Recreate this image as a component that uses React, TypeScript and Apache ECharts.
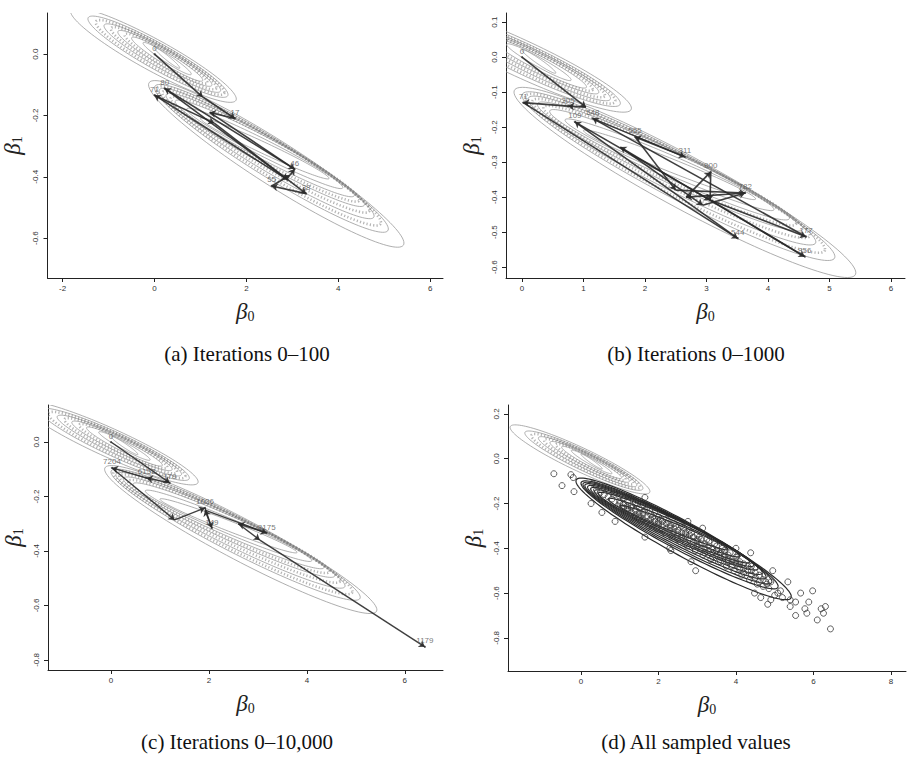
import React, { useEffect, useRef } from "react";
import * as echarts from "echarts";

// ---- contour families: left tip, right tip, vertical half-width ----
const upperLeft = [[-1.83, 0.14], [-1.45, 0.115], [-1.1, 0.092], [-0.8, 0.072], [-0.5, 0.052], [-0.25, 0.036], [0.0, 0.02]];
const upperRight = [[1.78, -0.146], [1.6, -0.132], [1.44, -0.118], [1.25, -0.1], [1.05, -0.085], [0.8, -0.065], [0.55, -0.045]];
const upperHalf = [0.058, 0.048, 0.038, 0.03, 0.022, 0.015, 0.009];

const lowerLeft = [[-0.13, -0.1], [0.0, -0.11], [0.1, -0.12], [0.25, -0.135], [0.45, -0.155], [0.7, -0.18], [1.0, -0.21]];
const lowerRight = [[5.43, -0.616], [5.09, -0.57], [4.78, -0.528], [4.57, -0.49], [4.35, -0.46], [4.1, -0.435], [3.8, -0.405]];
const lowerHalf = [0.085, 0.072, 0.06, 0.05, 0.04, 0.03, 0.02];

// contour-label bands (dense small labels drawn along the contours)
const upperBandLeft = [[-1.28, 0.103], [-0.95, 0.082], [-0.65, 0.062]];
const upperBandRight = [[1.52, -0.125], [1.35, -0.109], [1.15, -0.092]];
const upperBandHalf = [0.043, 0.034, 0.026];
const lowerBandLeft = [[0.05, -0.115], [0.17, -0.127], [0.35, -0.145]];
const lowerBandRight = [[4.93, -0.549], [4.68, -0.509], [4.46, -0.475]];
const lowerBandHalf = [0.066, 0.055, 0.045];

// ---- sampler paths ----
const pathA = [
  [0.0, 0.0], [1.05, -0.14], [1.75, -0.21], [1.2, -0.19], [3.05, -0.375], [0.22, -0.112],
  [2.9, -0.41], [0.0, -0.134], [1.3, -0.225], [3.3, -0.455], [2.55, -0.43], [2.95, -0.395], [3.05, -0.375],
];
const labelsA = [
  [0.0, 0.0, "0"], [0.22, -0.112, "80"], [0.0, -0.134, "71"], [1.75, -0.21, "17"],
  [3.05, -0.375, "46"], [3.3, -0.455, "38"], [2.55, -0.43, "55"],
];

const pathB = [
  [0.0, 0.0], [1.04, -0.143], [0.75, -0.14], [0.02, -0.13], [3.51, -0.518], [0.86, -0.185],
  [3.06, -0.408], [4.62, -0.513], [1.15, -0.175], [2.65, -0.285], [1.84, -0.228], [2.5, -0.38],
  [3.63, -0.388], [2.67, -0.4], [3.07, -0.328], [3.06, -0.408], [4.6, -0.57], [1.6, -0.257],
  [2.94, -0.423], [3.63, -0.388],
];
const labelsB = [
  [0.0, 0.0, "0"], [0.02, -0.13, "71"], [0.75, -0.14, "305"], [0.86, -0.185, "109"],
  [1.15, -0.175, "548"], [1.84, -0.228, "565"], [2.65, -0.285, "311"], [3.07, -0.328, "900"],
  [3.63, -0.388, "782"], [4.62, -0.513, "177"], [4.6, -0.57, "856"], [3.51, -0.518, "544"],
];

const pathC = [
  [0.0, 0.0], [1.2, -0.15], [0.73, -0.132], [0.02, -0.095], [1.3, -0.286], [1.92, -0.242],
  [2.06, -0.316], [1.92, -0.25], [3.18, -0.334], [2.6, -0.3], [3.04, -0.36], [6.41, -0.752],
];
const labelsC = [
  [0.0, 0.0, "0"], [0.02, -0.095, "7204"], [0.73, -0.132, "6152"], [1.2, -0.15, "179"],
  [1.92, -0.242, "1026"], [2.06, -0.316, "149"], [3.18, -0.334, "8175"], [6.41, -0.752, "1179"],
];

// ---- all sampled values (panel d) ----
const samplesCore = [
  [0.3, -0.11], [0.4, -0.14], [0.5, -0.12], [0.6, -0.16], [0.7, -0.14], [0.8, -0.18], [0.9, -0.15], [1.0, -0.2],
  [1.0, -0.17], [1.1, -0.22], [1.1, -0.18], [1.2, -0.19], [1.2, -0.23], [1.3, -0.21], [1.3, -0.24], [1.4, -0.2],
  [1.4, -0.25], [1.5, -0.22], [1.5, -0.26], [1.6, -0.24], [1.6, -0.27], [1.7, -0.22], [1.7, -0.28], [1.8, -0.25],
  [1.8, -0.29], [1.9, -0.27], [1.9, -0.24], [2.0, -0.3], [2.0, -0.26], [2.1, -0.28], [2.1, -0.32], [2.2, -0.27],
  [2.2, -0.31], [2.3, -0.3], [2.3, -0.34], [2.4, -0.29], [2.4, -0.33], [2.5, -0.32], [2.5, -0.36], [2.6, -0.3],
  [2.6, -0.35], [2.7, -0.33], [2.7, -0.38], [2.8, -0.36], [2.8, -0.32], [2.9, -0.35], [2.9, -0.39], [3.0, -0.37],
  [3.0, -0.34], [3.1, -0.4], [3.1, -0.36], [3.2, -0.38], [3.2, -0.42], [3.3, -0.37], [3.3, -0.41], [3.4, -0.4],
  [3.4, -0.44], [3.5, -0.39], [3.5, -0.43], [3.6, -0.42], [3.6, -0.46], [3.7, -0.44], [3.7, -0.41], [3.8, -0.46],
  [3.8, -0.43], [3.9, -0.45], [3.9, -0.48], [4.0, -0.47], [4.0, -0.44], [4.1, -0.49], [4.2, -0.47], [4.2, -0.51],
  [4.3, -0.5], [4.4, -0.52], [4.4, -0.48], [4.5, -0.53], [4.6, -0.52], [4.6, -0.55], [4.7, -0.54], [4.8, -0.56],
  [0.6, -0.13], [1.5, -0.24], [2.5, -0.34], [3.5, -0.41], [2.0, -0.28], [3.0, -0.39], [1.2, -0.21], [4.1, -0.46],
  [2.3, -0.32], [2.7, -0.35],
];
const samplesCore2 = [
  [1.0, -0.19], [1.1, -0.2], [1.2, -0.22], [1.3, -0.22], [1.4, -0.23], [1.5, -0.25], [1.6, -0.25], [1.7, -0.26],
  [1.8, -0.27], [1.9, -0.28], [2.0, -0.29], [2.1, -0.3], [2.2, -0.29], [2.3, -0.31], [2.4, -0.31], [2.5, -0.33],
  [2.6, -0.33], [2.7, -0.34], [2.8, -0.34], [2.9, -0.37], [3.0, -0.36], [3.1, -0.38], [3.2, -0.4], [3.3, -0.39],
  [3.4, -0.42], [3.5, -0.41], [3.6, -0.44], [3.7, -0.43], [3.8, -0.45], [3.9, -0.46], [4.0, -0.46], [4.1, -0.47],
  [4.2, -0.49], [4.3, -0.48], [4.4, -0.5], [4.5, -0.51], [1.45, -0.21], [1.65, -0.23], [1.85, -0.26], [2.05, -0.27],
  [2.25, -0.28], [2.45, -0.3], [2.65, -0.31], [2.85, -0.33], [3.05, -0.35], [3.25, -0.36], [3.45, -0.38], [3.65, -0.4],
  [3.85, -0.42], [4.05, -0.43], [1.35, -0.26], [1.55, -0.28], [1.75, -0.3], [1.95, -0.31], [2.15, -0.33], [2.35, -0.35],
  [2.55, -0.37], [2.75, -0.39], [2.95, -0.41], [3.15, -0.43], [3.35, -0.45], [3.55, -0.46], [3.75, -0.48], [3.95, -0.5],
  [4.15, -0.52], [4.35, -0.54], [4.55, -0.56], [0.7, -0.17], [0.85, -0.16], [0.95, -0.21], [1.25, -0.17], [0.5, -0.15],
  [0.4, -0.12], [4.7, -0.57], [4.75, -0.52], [4.85, -0.58], [4.9, -0.55],
];
const samplesOuter = [
  [-0.7, -0.067], [-0.49, -0.12], [-0.18, -0.147], [-0.26, -0.071], [-0.2, -0.084], [0.26, -0.2], [0.54, -0.24],
  [0.88, -0.28], [1.65, -0.35], [1.65, -0.173], [2.32, -0.41], [2.29, -0.4], [2.84, -0.46], [2.96, -0.5],
  [2.76, -0.28], [3.14, -0.31], [4.0, -0.4], [4.38, -0.42], [4.48, -0.6], [4.64, -0.62], [4.82, -0.65],
  [4.9, -0.63], [4.95, -0.5], [5.0, -0.61], [5.34, -0.55], [5.2, -0.62], [5.4, -0.63], [5.4, -0.66],
  [5.54, -0.64], [5.54, -0.7], [5.67, -0.6], [5.78, -0.67], [5.83, -0.69], [5.88, -0.64], [5.98, -0.59],
  [6.1, -0.72], [6.2, -0.67], [6.26, -0.69], [6.31, -0.66], [6.44, -0.76], [4.77, -0.55], [5.15, -0.59], [5.08, -0.6],
];

// ---- axes ----
const xTicksA = [-2, 0, 2, 4, 6];
const yTicksA = [0, -0.2, -0.4, -0.6];
const xTicksB = [0, 1, 2, 3, 4, 5, 6];
const yTicksB = [0.1, 0, -0.1, -0.2, -0.3, -0.4, -0.5, -0.6];
const xTicksC = [0, 2, 4, 6];
const yTicksC = [0, -0.2, -0.4, -0.6, -0.8];
const xTicksD = [0, 2, 4, 6, 8];
const yTicksD = [0.2, 0, -0.2, -0.4, -0.6, -0.8];

const captions = ["(a) Iterations 0\u2013100", "(b) Iterations 0\u20131000", "(c) Iterations 0\u201310,000", "(d) All sampled values"];

const panels = [
  { grid: { left: 47, top: 13, width: 396, height: 265 }, x: [-2.33, 6.28], y: [-0.73, 0.134], xt: xTicksA, yt: yTicksA, cap: [247, 354] },
  { grid: { left: 506, top: 13, width: 399, height: 265 }, x: [-0.26, 6.23], y: [-0.631, 0.126], xt: xTicksB, yt: yTicksB, cap: [696, 354] },
  { grid: { left: 48, top: 405, width: 395, height: 265 }, x: [-1.286, 6.78], y: [-0.837, 0.136], xt: xTicksC, yt: yTicksC, cap: [237, 742] },
  { grid: { left: 508, top: 405, width: 398, height: 266 }, x: [-1.884, 8.39], y: [-0.948, 0.24], xt: xTicksD, yt: yTicksD, cap: [696, 742] },
];

const nameRich = {
  b: { fontSize: 23, fontFamily: "Liberation Serif", fontStyle: "italic", color: "#222" },
  s: { fontSize: 14, fontFamily: "Liberation Serif", color: "#222", padding: [10, 0, 0, 0] },
};

function ellipseSeries(i: number, left: number[][], right: number[][], half: number[], color: string, width: number, dash?: number[]) {
  return {
    type: "custom",
    xAxisIndex: i,
    yAxisIndex: i,
    clip: true,
    silent: true,
    z: 2,
    data: left.map((l, k) => [l[0], l[1], right[k][0], right[k][1], half[k]]),
    encode: { x: [0, 2], y: [1, 3] },
    renderItem: (params: any, api: any) => {
      const lx = api.value(0), ly = api.value(1), rx = api.value(2), ry = api.value(3), b = api.value(4);
      const cx = (lx + rx) / 2, cy = (ly + ry) / 2, a = (rx - lx) / 2, h = (ry - ly) / 2;
      const pts: number[][] = [];
      for (let k = 0; k <= 120; k++) {
        const t = (2 * Math.PI * k) / 120;
        pts.push(api.coord([cx + a * Math.cos(t), cy + h * Math.cos(t) + b * Math.sin(t)]));
      }
      return {
        type: "polyline",
        shape: { points: pts },
        style: { fill: null, stroke: color, lineWidth: width, lineDash: dash || null },
      };
    },
  };
}

function pathSeries(i: number, path: number[][], width: number) {
  return {
    type: "lines",
    coordinateSystem: "cartesian2d",
    xAxisIndex: i,
    yAxisIndex: i,
    silent: true,
    z: 5,
    symbol: ["none", "arrow"],
    symbolSize: 6,
    lineStyle: { color: "#2a2a2a", width, opacity: 0.9 },
    data: path.slice(1).map((p, k) => ({ coords: [path[k], p] })),
  };
}

function labelSeries(i: number, labels: any[]) {
  return {
    type: "scatter",
    xAxisIndex: i,
    yAxisIndex: i,
    silent: true,
    z: 6,
    symbolSize: 2,
    itemStyle: { color: "#333" },
    label: { show: true, formatter: "{b}", position: "top", distance: 1, fontSize: 8, color: "#555", fontFamily: "Liberation Sans" },
    data: labels.map((l) => ({ name: l[2], value: [l[0], l[1]] })),
  };
}

export default function App() {
  const ref = useRef<HTMLDivElement>(null);
  useEffect(() => {
    if (!ref.current) return;
    const chart = echarts.init(ref.current, null, { renderer: "svg" });
    const grids = panels.map((p) => p.grid);
    const xAxis = panels.map((p, i) => ({
      type: "value",
      gridIndex: i,
      min: p.x[0],
      max: p.x[1],
      axisLine: { show: true, onZero: false, lineStyle: { color: "#222", width: 1 } },
      axisTick: { show: true, length: 4, customValues: p.xt, lineStyle: { color: "#222" } },
      axisLabel: { customValues: p.xt, fontSize: 8, color: "#333", margin: 6, fontFamily: "Liberation Sans", formatter: (v: number) => String(Math.round(v)) },
      splitLine: { show: false },
      name: "{b|\u03b2}{s|0}",
      nameLocation: "middle",
      nameGap: 21,
      nameTextStyle: { rich: nameRich },
    }));
    const yAxis = panels.map((p, i) => ({
      type: "value",
      gridIndex: i,
      min: p.y[0],
      max: p.y[1],
      axisLine: { show: true, onZero: false, lineStyle: { color: "#222", width: 1 } },
      axisTick: { show: true, length: 4, customValues: p.yt, lineStyle: { color: "#222" } },
      axisLabel: { customValues: p.yt, fontSize: 8, color: "#333", margin: 8, rotate: 90, fontFamily: "Liberation Sans", formatter: (v: number) => v.toFixed(1) },
      splitLine: { show: false },
      name: "{b|\u03b2}{s|1}",
      nameLocation: "middle",
      nameGap: 23,
      nameRotate: 90,
      nameTextStyle: { rich: nameRich },
    }));
    const series: any[] = [];
    for (let i = 0; i < 4; i++) {
      const dark = i === 3;
      series.push(ellipseSeries(i, upperLeft, upperRight, upperHalf, "#999", 0.8));
      series.push(ellipseSeries(i, upperBandLeft, upperBandRight, upperBandHalf, "rgba(120,120,120,0.55)", 2.6, [1.2, 2.2]));
      if (dark) {
        series.push(ellipseSeries(i, lowerLeft, lowerRight, lowerHalf, "#2a2a2a", 1.2));
        series.push(ellipseSeries(i, lowerBandLeft, lowerBandRight, lowerBandHalf, "#2a2a2a", 1.1));
      } else {
        series.push(ellipseSeries(i, lowerLeft, lowerRight, lowerHalf, "#999", 0.8));
        series.push(ellipseSeries(i, lowerBandLeft, lowerBandRight, lowerBandHalf, "rgba(120,120,120,0.55)", 2.6, [1.2, 2.2]));
      }
    }
    series.push(pathSeries(0, pathA, 1.6));
    series.push(labelSeries(0, labelsA));
    series.push(pathSeries(1, pathB, 1.6));
    series.push(labelSeries(1, labelsB));
    series.push(pathSeries(2, pathC, 1.4));
    series.push(labelSeries(2, labelsC));
    series.push({
      type: "scatter",
      xAxisIndex: 3,
      yAxisIndex: 3,
      silent: true,
      z: 4,
      symbol: "circle",
      symbolSize: 6,
      itemStyle: { color: "rgba(0,0,0,0)", borderColor: "#3a3a3a", borderWidth: 1 },
      data: samplesCore.concat(samplesCore2, samplesOuter),
    });
    const graphic = panels.map((p, i) => ({
      type: "text",
      x: p.cap[0],
      y: p.cap[1],
      style: { text: captions[i], fontSize: 21, fontFamily: "Liberation Serif", fill: "#111", textAlign: "center", textVerticalAlign: "middle" },
    }));
    chart.setOption({
      animation: false,
      backgroundColor: "#fff",
      grid: grids,
      xAxis,
      yAxis,
      series,
      graphic,
    });
    return () => chart.dispose();
  }, []);
  return <div ref={ref} style={{ position: "absolute", left: 0, top: 0, width: 907, height: 758 }} />;
}
